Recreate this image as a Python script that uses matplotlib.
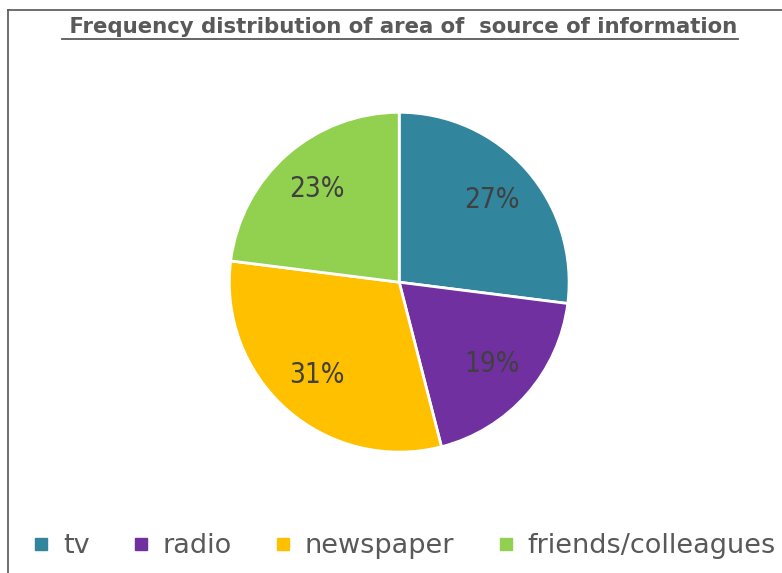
import matplotlib
matplotlib.use("Agg")
from matplotlib import pyplot as plt
from matplotlib.lines import Line2D

sources = ['tv', 'radio', 'newspaper', 'friends/colleagues']
shares = [27, 19, 31, 23]
colors = ['#31859C', '#7030A0', '#FFC000', '#92D050']
title = ' Frequency distribution of area of  source of information'

plt.rcParams['font.family'] = ['DejaVu Sans']

fig = plt.figure(figsize=(7.82, 5.73), dpi=100)
ax = fig.add_axes([0.293, 0.211, 0.435, 0.593])

wedges, texts, autotexts = ax.pie(
    shares, colors=colors, startangle=90, counterclock=False,
    autopct='%d%%', pctdistance=0.73,
    wedgeprops={'edgecolor': 'white', 'linewidth': 2},
    textprops={'fontsize': 20, 'color': '#404040', 'fontstretch': 'condensed'})
ax.set_xlim(-1, 1)
ax.set_ylim(-1, 1)
ax.set_aspect('equal')

# chart frame (only top and left edges visible)
fig.add_artist(Line2D([8 / 782, 1], [1 - 10 / 573, 1 - 10 / 573],
                      transform=fig.transFigure, color='#555555', lw=1.2))
fig.add_artist(Line2D([8 / 782, 8 / 782], [0, 1 - 10 / 573],
                      transform=fig.transFigure, color='#555555', lw=1.2))

t = fig.text(400 / 782, 1 - 27 / 573, title, ha='center', va='center',
             fontsize=15.3, fontweight='bold', color='#595959')
fig.canvas.draw()
bb = t.get_window_extent().transformed(fig.transFigure.inverted())
fig.add_artist(Line2D([bb.x0, bb.x1], [1 - 39 / 573, 1 - 39 / 573],
                      transform=fig.transFigure, color='#595959', lw=1.3))

handles = [Line2D([], [], marker='s', linestyle='', markersize=8,
                  markerfacecolor=c, markeredgecolor=c) for c in colors]
fig.legend(handles, sources, loc='center', bbox_to_anchor=(403 / 782, 1 - 546 / 573),
           ncol=4, frameon=False, fontsize=19.5, labelcolor='#595959',
           handletextpad=0.4, columnspacing=1.5, handlelength=0.8,
           borderpad=0, borderaxespad=0)

fig.savefig('out.png', dpi=100)
